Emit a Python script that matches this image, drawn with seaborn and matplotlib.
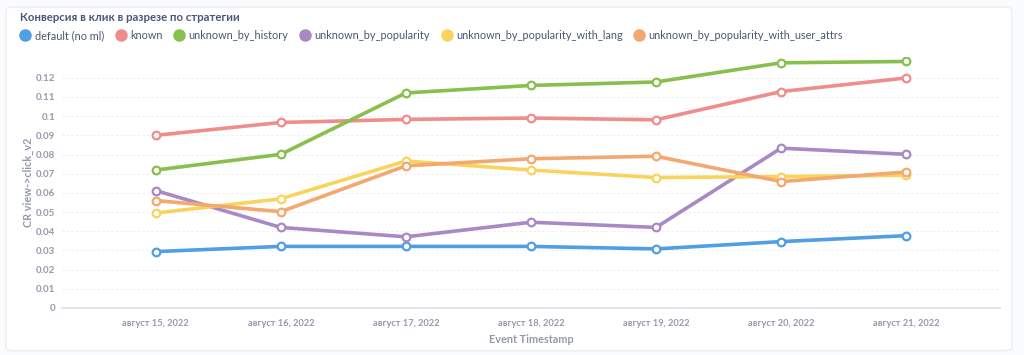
import seaborn as sns
import pandas as pd
import matplotlib.pyplot as plt
from matplotlib.lines import Line2D
from matplotlib.patches import FancyBboxPatch
from matplotlib.ticker import FuncFormatter, FixedLocator

sns.set_style('white')
plt.rcParams['font.family'] = ['Lato', 'DejaVu Sans']

dates = ['август 15, 2022', 'август 16, 2022', 'август 17, 2022', 'август 18, 2022',
         'август 19, 2022', 'август 20, 2022', 'август 21, 2022']
strategies = ['default (no ml)', 'known', 'unknown_by_history', 'unknown_by_popularity',
              'unknown_by_popularity_with_lang', 'unknown_by_popularity_with_user_attrs']
colors = ['#509EE3', '#EF8C8C', '#88BF4D', '#A989C5', '#F9D45C', '#F2A86F']
yticks = [0, 0.01, 0.02, 0.03, 0.04, 0.05, 0.06, 0.07, 0.08, 0.09, 0.1, 0.11, 0.12]

default_no_ml = [0.0294, 0.0321, 0.0321, 0.0321, 0.0308, 0.0346, 0.0377]
known = [0.0900, 0.0967, 0.0983, 0.0990, 0.0981, 0.1128, 0.1199]
by_history = [0.0719, 0.0801, 0.1121, 0.1160, 0.1178, 0.1278, 0.1285]
by_popularity = [0.0612, 0.0420, 0.0371, 0.0447, 0.0420, 0.0833, 0.0801]
with_lang = [0.0495, 0.0569, 0.0766, 0.0719, 0.0680, 0.0685, 0.0692]
with_user_attrs = [0.0560, 0.0502, 0.0741, 0.0778, 0.0791, 0.0659, 0.0709]

series = [default_no_ml, known, by_history, by_popularity, with_lang, with_user_attrs]
df = pd.concat([pd.DataFrame({'date': dates, 'value': v, 'strategy': s})
                for s, v in zip(strategies, series)])

fig = plt.figure(figsize=(10.24, 3.55), dpi=100)
fig.patch.set_facecolor('#f9fbfc')
card = FancyBboxPatch((0.006, 0.012), 0.982, 0.968, boxstyle='round,pad=0,rounding_size=0.008',
                      transform=fig.transFigure, facecolor='white', edgecolor='#eceef1',
                      linewidth=1, zorder=-10)
fig.patches.append(card)

ax = fig.add_axes([0.0605, 0.1324, 0.916, 0.708])
sns.lineplot(data=df, x='date', y='value', hue='strategy', palette=colors, ax=ax,
             marker='o', markersize=5.5, linewidth=2.6, legend=False, sort=False)
for line in ax.lines:
    line.set_markerfacecolor('white')
    line.set_markeredgecolor(line.get_color())
    line.set_markeredgewidth(1.6)

ax.set_xlim(-0.75, 6.75)
ax.set_ylim(0, 0.131)
ax.yaxis.set_major_locator(FixedLocator(yticks))
ax.yaxis.set_major_formatter(FuncFormatter(lambda v, p: '0' if abs(v) < 1e-9 else f'{v:g}'))
ax.grid(axis='y', color='#eceef1', linestyle=(0, (2, 2)), linewidth=0.8)
ax.set_axisbelow(True)
for side in ['top', 'right', 'left']:
    ax.spines[side].set_visible(False)
ax.spines['bottom'].set_color('#dcdfe6')
ax.spines['bottom'].set_linewidth(1.2)
ax.tick_params(axis='y', length=0, labelsize=7, labelcolor='#949aab', pad=5)
ax.tick_params(axis='x', length=0, labelsize=6.7, labelcolor='#949aab', pad=8)
for lbl in ax.get_xticklabels() + ax.get_yticklabels():
    lbl.set_fontweight('bold')
ax.set_xlabel('Event Timestamp', fontsize=7.8, fontweight='bold', color='#949aab', labelpad=4)
ax.set_ylabel('CR view->click_v2', fontsize=7.8, fontweight='bold', color='#949aab', labelpad=1)

fig.text(0.0195, 0.952, 'Конверсия в клик в разрезе по стратегии', fontsize=8.2,
         fontweight='bold', color='#4c5773', va='center')
handles = [Line2D([], [], marker='o', linestyle='none', markersize=8, color=c) for c in colors]
fig.legend(handles, strategies, loc='center left', bbox_to_anchor=(0.009, 0.9), ncol=6,
           frameon=False, fontsize=7.8, labelcolor='#4c5773', handletextpad=0.25,
           columnspacing=0.95, handlelength=1.2)

fig.savefig('out.png', dpi=100)
